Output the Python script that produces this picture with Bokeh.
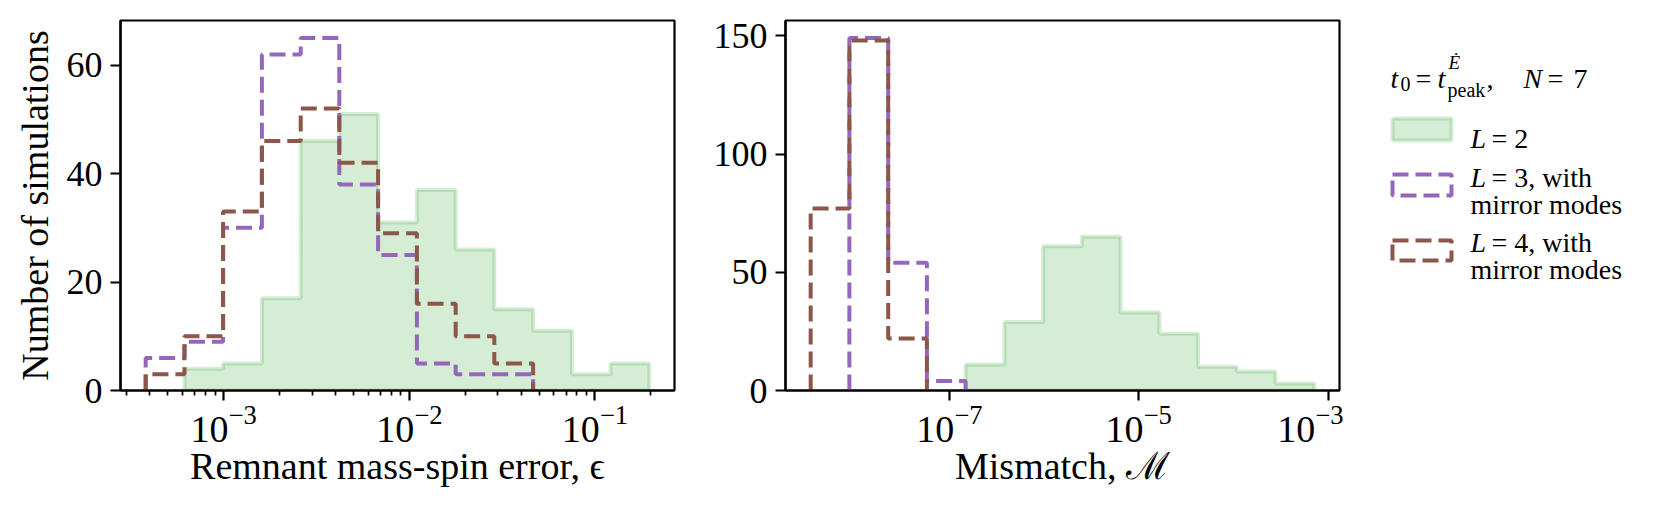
import numpy as np
from bokeh.plotting import figure
from bokeh.models import Range1d, FixedTicker
from bokeh.layouts import row
from bokeh.embed import file_html
from bokeh.resources import INLINE
from bokeh.core.properties import value

# ---------------- data ----------------
# log10 of the common histogram bin edges, left panel (remnant mass-spin error)
eps_log_edges = [-3.420, -3.211, -3.003, -2.794, -2.585, -2.377, -2.168,
                 -1.959, -1.750, -1.542, -1.333, -1.124, -0.916, -0.707]
eps_L2 = [0, 4, 5, 17, 46, 51, 31, 37, 26, 15, 11, 3, 5]
eps_L3 = [6, 9, 30, 62, 65, 38, 25, 5, 3, 3, 0, 0, 0]
eps_L4 = [3, 10, 33, 46, 52, 42, 29, 16, 10, 5, 0, 0, 0]

# log10 of the common histogram bin edges, right panel (mismatch)
mm_log_edges = [-8.466, -8.057, -7.647, -7.238, -6.829, -6.419, -6.010,
                -5.601, -5.192, -4.782, -4.373, -3.964, -3.555, -3.145]
mm_L2 = [0, 0, 0, 0, 11, 29, 61, 65, 33, 24, 10, 8, 3]
mm_L3 = [0, 149, 54, 4, 0, 0, 0, 0, 0, 0, 0, 0, 0]
mm_L4 = [77, 148, 22, 0, 0, 0, 0, 0, 0, 0, 0, 0, 0]

# tick values
eps_major_ticks = [1e-3, 1e-2, 1e-1]
eps_minor_ticks = [3e-4, 4e-4, 5e-4, 6e-4, 7e-4, 8e-4, 9e-4,
                   2e-3, 3e-3, 4e-3, 5e-3, 6e-3, 7e-3, 8e-3, 9e-3,
                   2e-2, 3e-2, 4e-2, 5e-2, 6e-2, 7e-2, 8e-2, 9e-2, 2e-1]
mm_major_ticks = [1e-7, 1e-5, 1e-3]
eps_count_ticks = [0, 20, 40, 60]
mm_count_ticks = [0, 50, 100, 150]

x_label_left = "Remnant mass-spin error, ϵ"
x_label_right = "Mismatch, ℳ"
y_label = "Number of simulations"

# ---------------- styles ----------------
GREEN = "#2ca02c"
PURPLE = "#9467bd"
BROWN = "#8c564b"
FONT = "Liberation Serif"
DASH = "16 7"
TOP = 20
FRAME_H = 370
BOTTOM = 116
FIG_H = TOP + FRAME_H + BOTTOM
FRAME_W = 554


def outline(log_edges, counts):
    c = np.asarray(counts, dtype=float)
    nz = np.nonzero(c)[0]
    i0, i1 = nz[0], nz[-1] + 1
    e = 10.0 ** np.asarray(log_edges)[i0:i1 + 1]
    xs = np.repeat(e, 2)
    ys = np.concatenate([[0.0], np.repeat(c[i0:i1], 2), [0.0]])
    return xs, ys


def panel(log_edges, series, major, minor, yticks, xlabel, ylabel,
          border_left, border_right):
    lo, hi = log_edges[0], log_edges[-1]
    span = hi - lo
    xr = Range1d(10 ** (lo - 0.05 * span), 10 ** (hi + 0.05 * span))
    ymax = 1.05 * max(max(s) for s in series)
    p = figure(title=None, x_axis_type="log", x_range=xr,
               y_range=Range1d(0, ymax),
               width=border_left + FRAME_W + border_right, height=FIG_H,
               min_border_left=border_left, min_border_right=border_right,
               min_border_top=TOP, min_border_bottom=BOTTOM,
               output_backend="svg", toolbar_location=None)
    p.align = "start"
    p.xgrid.visible = False
    p.ygrid.visible = False
    p.outline_line_color = "black"
    p.outline_line_width = 2.2
    p.background_fill_color = "white"
    p.border_fill_color = "white"

    g, pu, br = series
    xs, ys = outline(log_edges, g)
    p.patch(xs, ys, fill_color=GREEN, fill_alpha=0.2,
            line_color=GREEN, line_alpha=0.2, line_width=4)
    xs, ys = outline(log_edges, pu)
    p.line(xs, ys, line_color=PURPLE, line_width=4, line_dash=DASH)
    xs, ys = outline(log_edges, br)
    p.line(xs, ys, line_color=BROWN, line_width=4, line_dash=DASH)

    p.xaxis.ticker = FixedTicker(ticks=major, minor_ticks=minor)
    p.yaxis.ticker = FixedTicker(ticks=yticks, minor_ticks=[])
    for ax in p.xaxis + p.yaxis:
        ax.axis_line_color = "black"
        ax.axis_line_width = 2.2
        ax.major_tick_out = 10
        ax.major_tick_in = 0
        ax.minor_tick_out = 5
        ax.minor_tick_in = 0
        ax.major_tick_line_width = 2.2
        ax.minor_tick_line_width = 1.7
        ax.major_label_text_font = FONT
        ax.major_label_text_color = "black"
        ax.axis_label_text_font = FONT
        ax.axis_label_text_font_size = "38px"
        ax.axis_label_text_font_style = "normal"
        ax.axis_label_text_color = "black"
    p.yaxis.major_label_text_font_size = "36px"
    p.xaxis.major_label_text_font_size = "38px"
    p.yaxis.major_label_standoff = 8
    p.xaxis.major_label_standoff = 5
    p.yaxis.minor_tick_line_color = None
    if not minor:
        p.xaxis.minor_tick_line_color = None
    p.xaxis.axis_label = xlabel
    p.xaxis.axis_label_standoff = 0
    if ylabel:
        p.yaxis.axis_label = ylabel
        p.yaxis.axis_label_standoff = 8
    return p


p1 = panel(eps_log_edges, (eps_L2, eps_L3, eps_L4), eps_major_ticks,
           eps_minor_ticks, eps_count_ticks, x_label_left, y_label, 120, 10)
p2 = panel(mm_log_edges, (mm_L2, mm_L3, mm_L4), mm_major_ticks,
           [], mm_count_ticks, x_label_right, None, 101, 4)

# ---------------- legend panel ----------------
# frame of this panel is aligned with the other frames (page y TOP..TOP+FRAME_H),
# so its y range is expressed in page pixels
LW = 300
q = figure(title=None, x_range=Range1d(0, LW),
           y_range=Range1d(TOP + FRAME_H, TOP),
           width=LW, height=FIG_H,
           min_border_left=0, min_border_right=0,
           min_border_top=TOP, min_border_bottom=BOTTOM,
           x_axis_type=None, y_axis_type=None,
           output_backend="svg", toolbar_location=None)
q.align = "start"
q.outline_line_color = None
q.xgrid.visible = False
q.ygrid.visible = False
q.border_fill_color = "white"


def txt(xs, ys, texts, size, style="normal"):
    q.text(x=xs, y=ys, text=texts, text_font=value(FONT),
           text_font_size=size, text_font_style=style,
           text_baseline="alphabetic", text_align="left",
           text_color="black")


# title  t_0 = t^{Ė}_{peak}, N = 7
txt([47, 94, 180], [78, 78, 78], ["t", "t", "N"], "28px", "italic")
txt([72, 204, 230], [78, 78, 78], ["=", "=", "7"], "28px")
txt([143], [78], [","], "28px")
txt([57, 104], [83, 89], ["0", "peak"], "20px")
txt([105], [62], ["Ė"], "19px", "italic")

# swatches
q.quad(left=[49], right=[108], top=[118], bottom=[140],
       fill_color=GREEN, fill_alpha=0.2, line_color=GREEN,
       line_alpha=0.2, line_width=4)
q.quad(left=[49], right=[108], top=[174], bottom=[195],
       fill_color=None, line_color=PURPLE, line_width=4, line_dash=DASH)
q.quad(left=[49], right=[108], top=[240], bottom=[260],
       fill_color=None, line_color=BROWN, line_width=4, line_dash=DASH)

# labels
txt([127, 127, 127], [138, 177, 242], ["L", "L", "L"], "28px", "italic")
txt([148, 148, 148], [138, 177, 242], ["= 2", "= 3, with", "= 4, with"], "28px")
txt([127, 127], [204, 269], ["mirror modes", "mirror modes"], "28px")

layout = row(p1, p2, q)
open("out.html", "w").write(file_html(layout, INLINE))
